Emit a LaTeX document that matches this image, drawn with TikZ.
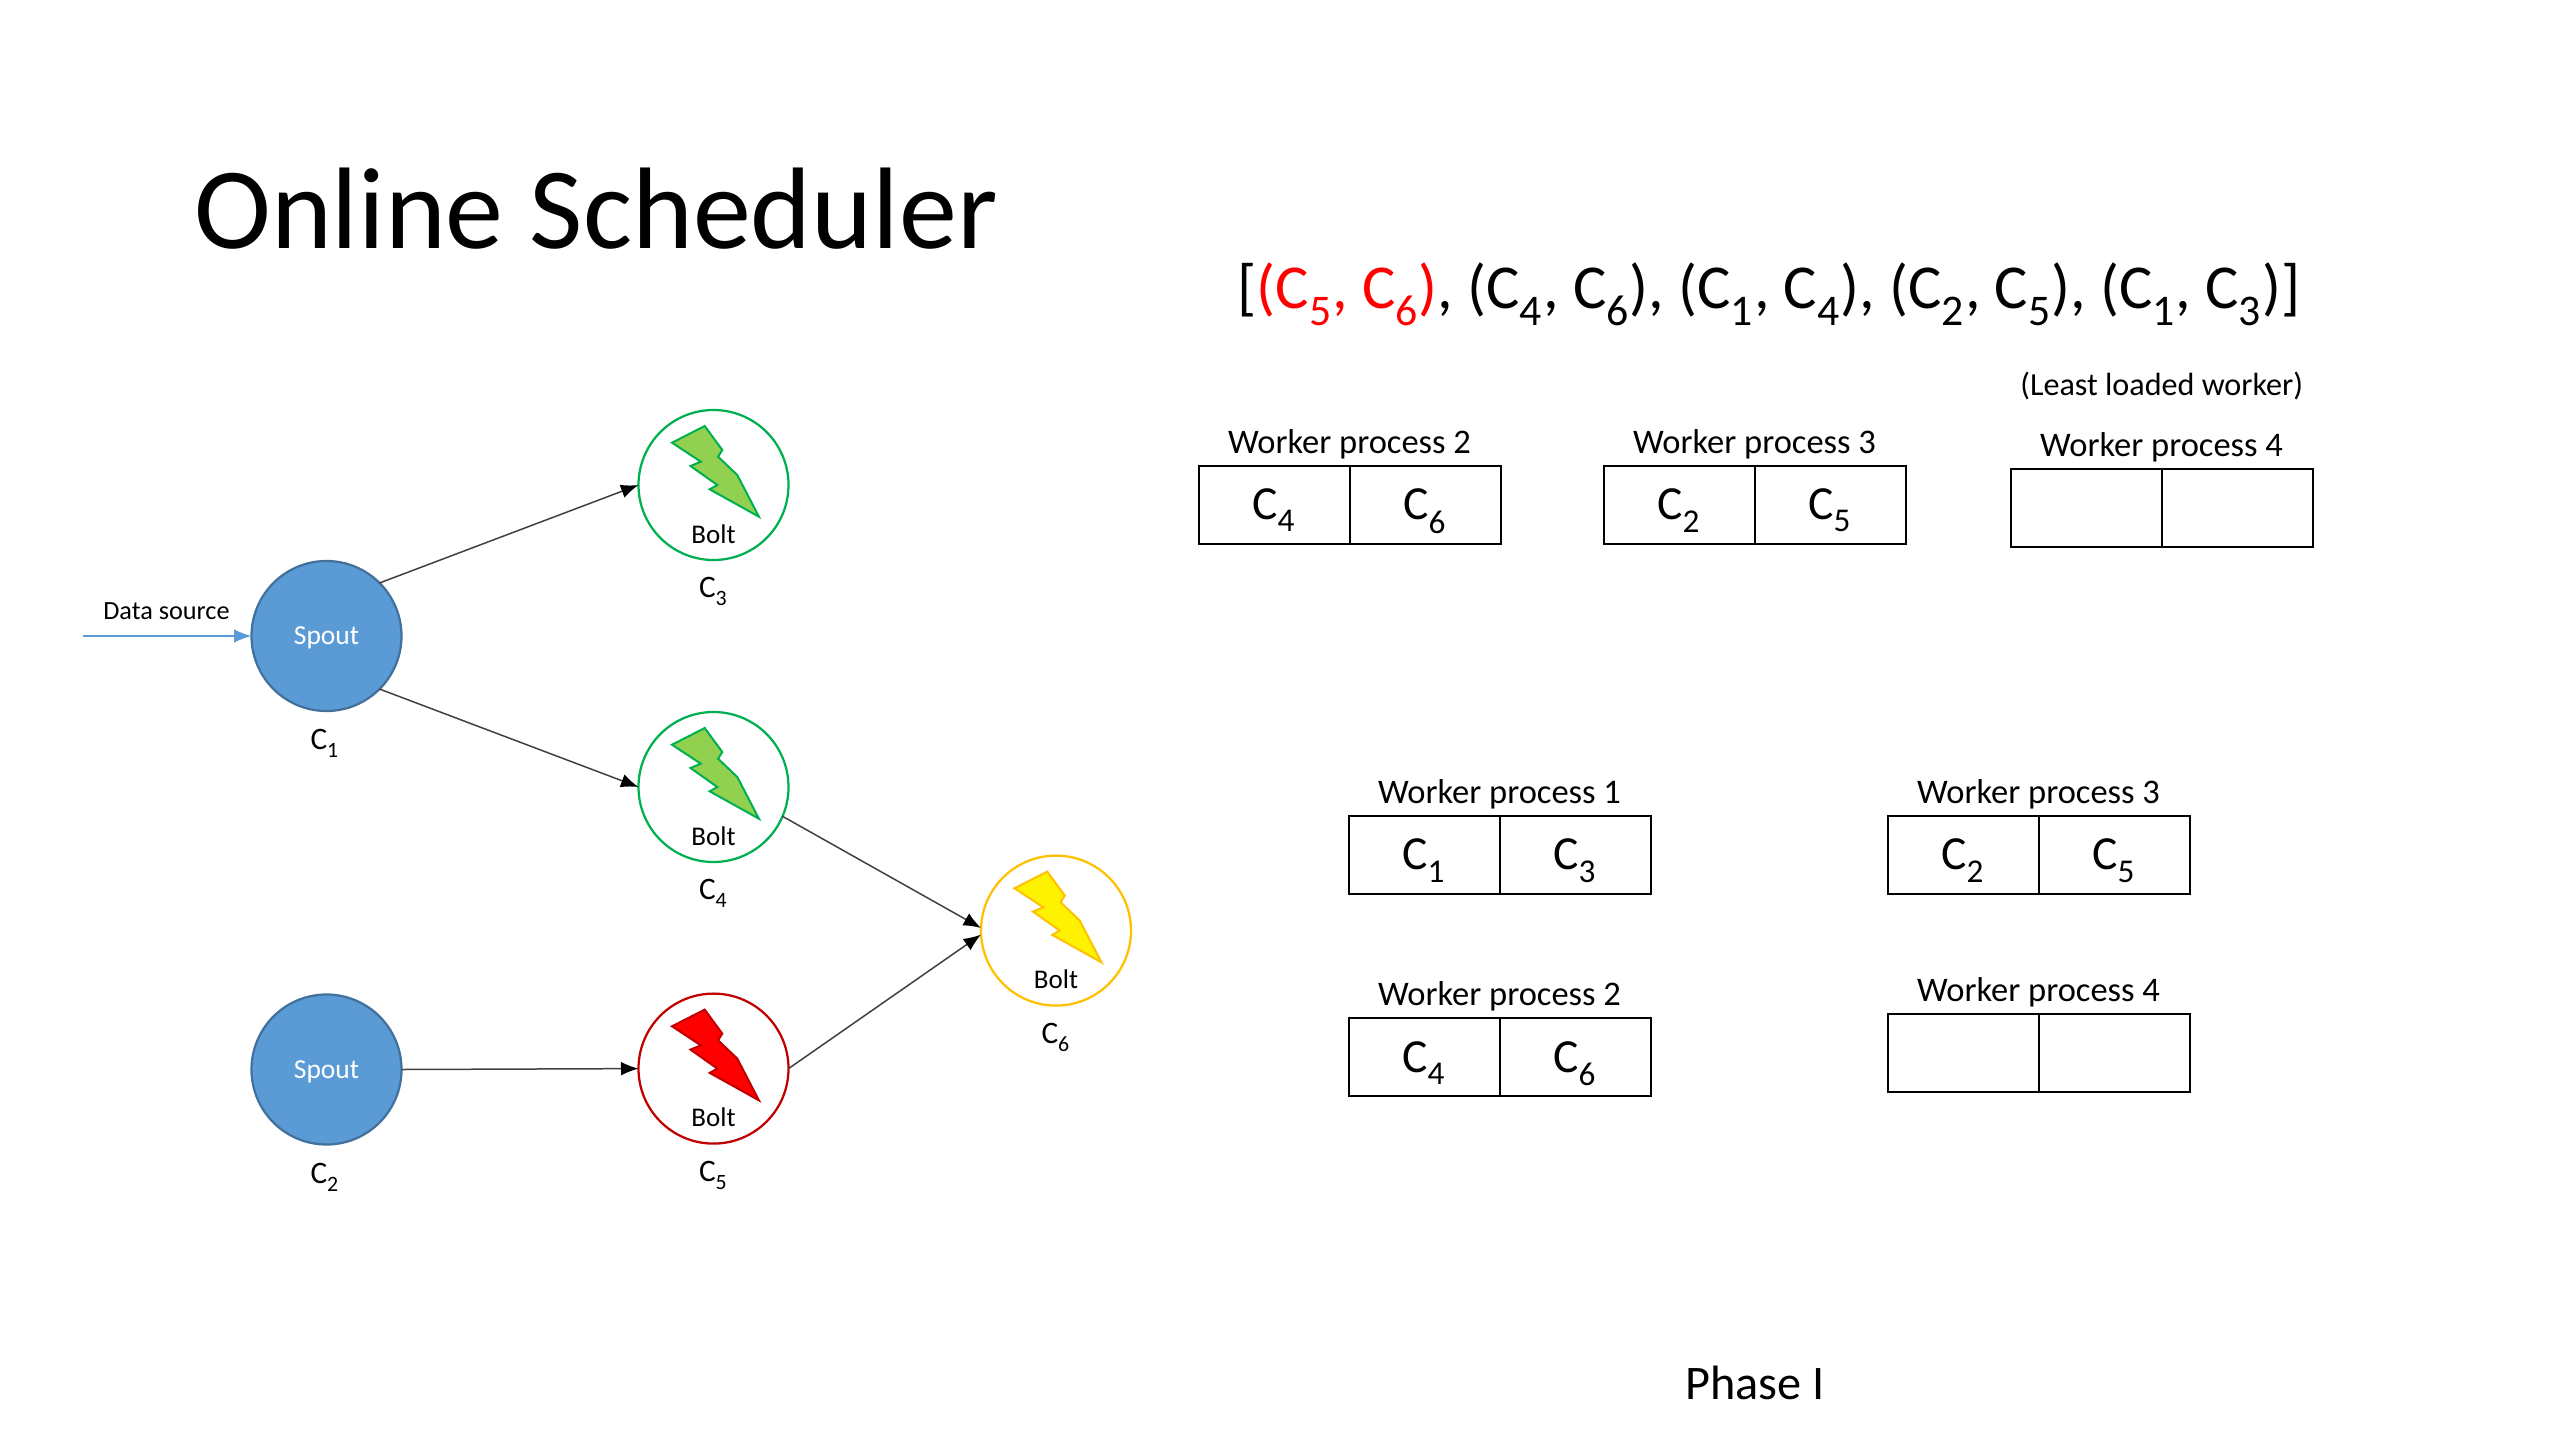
\documentclass[tikz,border=0pt]{standalone}
\usepackage{fontspec}
\setmainfont{Carlito}
\usetikzlibrary{arrows.meta,positioning}
\definecolor{spoutblue}{HTML}{5B9BD5}
\definecolor{spoutedge}{HTML}{41719C}
\definecolor{boltgreen}{HTML}{92D050}
\definecolor{ringgreen}{HTML}{00B050}
\definecolor{ringred}{HTML}{C00000}
\definecolor{ringyellow}{HTML}{FFC000}
\newcommand{\comp}[1]{C\raisebox{-0.12em}[0pt][0pt]{\textsubscript{#1}}}
\tikzset{
  compnode/.style={circle, minimum size=60pt, inner sep=0pt, outer sep=0pt, line width=0.9pt},
  spoutnode/.style={compnode, draw=spoutedge, fill=spoutblue, text=white, text depth=0pt, font=\fontsize{11}{13}\selectfont},
  compname/.style={inner sep=0pt, font=\fontsize{12.5}{15}\selectfont},
  cell/.style={draw, line width=0.8pt, minimum width=60.4pt, minimum height=31.2pt, inner sep=0pt, outer sep=0pt, font=\fontsize{19}{22}\selectfont},
  wlabel/.style={inner sep=0pt, font=\fontsize{13.8}{16}\selectfont},
  flow/.style={-{Latex[length=7pt,width=5.5pt,color=black]}, line width=0.6pt, draw=black!75},
  bolticon/.pic={
    \path[pic actions, line width=0.8pt, line join=miter]
      (-8.8,-59) -- (-41.5,-42.3) -- (-12.7,-23.3) -- (-23,-19) -- (3.8,0) -- (-3.8,4.3)
      -- (45.4,31.7) -- (23.8,-10) -- (4.6,-28.3) -- (8.8,-35) -- cycle;
  }
}
\begin{document}
\begin{tikzpicture}[x=0.4pt,y=-0.4pt]
  \useasboundingbox (0,0) rectangle (2560,1440);
  % title and order
  \node[inner sep=0pt, font=\fontsize{46.4}{56}\selectfont] (title) at (596,209) {Online Scheduler};
  \node[inner sep=0pt, font=\fontsize{25}{30}\selectfont] (order) at (1769,290)
    {[{\color{red}(\comp{5}, \comp{6})}, (\comp{4}, \comp{6}), (\comp{1}, \comp{4}), (\comp{2}, \comp{5}), (\comp{1}, \comp{3})]};
  % spouts
  \node[spoutnode] (spoutA) at (326.5,636) {Spout};
  \node[spoutnode] (spoutB) at (326.5,1069.5) {Spout};
  \node[compname] (nameA) at (325,739.5) {\comp{1}};
  \node[compname] (nameB) at (325,1173.5) {\comp{2}};
  \node[inner sep=0pt, font=\fontsize{10.5}{12}\selectfont] (dsource) at (166.5,611) {Data source};
  \coordinate (dstart) at (83,636);
  % bolts
  \foreach \bname/\x/\y/\ring/\fil/\c in {boltC/713.5/485/ringgreen/boltgreen/3, boltD/713.5/787/ringgreen/boltgreen/4,
      boltE/713.5/1068.6/ringred/red/5, boltF/1056/930.6/ringyellow/yellow/6}{
    \node[compnode, draw=\ring] (\bname) at (\x,\y) {};
    \pic[draw=\ring, fill=\fil] at (\x,\y) {bolticon};
    \node[inner sep=0pt, font=\fontsize{10.8}{13}\selectfont] (\bname text) at ([yshift=-19.6pt]\bname) {Bolt};
    \node[compname] (\bname name) at ([yshift=-41pt]\bname) {\comp{\c}};
  }
  % connectors
  \draw[-{Latex[length=7pt,width=5.5pt]}, line width=0.7pt, draw=spoutblue] (dstart) -- (spoutA.west);
  \draw[flow] (spoutA.45) -- (boltC.west);
  \draw[flow] (spoutA.-45) -- (boltD.west);
  \draw[flow] (spoutB.east) -- (boltE.west);
  \draw[flow] (boltD.-23) -- (boltF.178);
  \draw[flow] (boltE.east) -- (boltF.183);
  % workers
  \node[inner sep=0pt, font=\fontsize{12.85}{16}\selectfont] (least) at (2161.7,386) {(Least loaded worker)};
  \foreach \wname/\x/\y/\n/\ca/\cb in {wtopB/1274/504.5/2/{\comp{4}}/{\comp{6}}, wtopC/1679/504.5/3/{\comp{2}}/{\comp{5}},
      wtopD/2086/507.8/4/{}/{}, wlowA/1424/854.7/1/{\comp{1}}/{\comp{3}}, wlowC/1963/854.7/3/{\comp{2}}/{\comp{5}},
      wlowB/1424/1057/2/{\comp{4}}/{\comp{6}}, wlowD/1963/1053/4/{}/{}}{
    \node[cell] (\wname a) at (\x,\y) {\ca};
    \node[cell, right=0pt of \wname a] (\wname b) {\cb};
    \node[wlabel, above=2.4pt of \wname a.north east] (\wname label) {Worker process \n};
  }
  % phase
  \node[inner sep=0pt, font=\fontsize{19.3}{23}\selectfont] (phase) at (1755,1383) {Phase I};
\end{tikzpicture}
\end{document}
